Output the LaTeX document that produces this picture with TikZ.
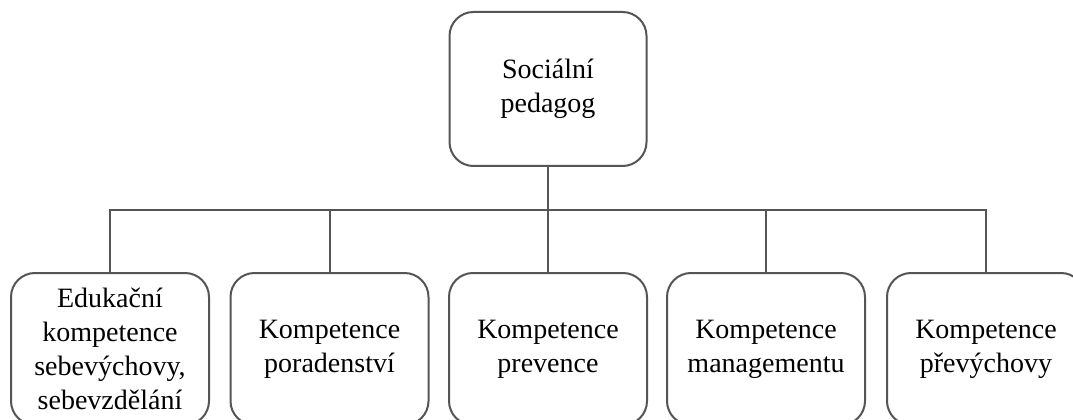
\documentclass[tikz,border=0pt]{standalone}
\usepackage{fontspec}
\setmainfont{Liberation Serif}
\definecolor{linecol}{HTML}{555555}
\begin{document}
\begin{tikzpicture}[x=0.75pt,y=-0.75pt,
  box/.style={draw=linecol, line width=1.5pt, rounded corners=18pt, fill=white,
    align=center, inner sep=0pt, text=black, font=\fontsize{21}{25.5}\selectfont},
  topbox/.style={box, minimum width=147.75pt, minimum height=115.5pt},
  subbox/.style={box, minimum width=148.5pt, minimum height=114pt},
  conn/.style={draw=linecol, line width=1.5pt}]
\useasboundingbox (0,0) rectangle (1073,420);
\fill[white] (0,0) rectangle (1073,420);
\coordinate (bus) at (549,210);
\node[topbox] (top) at (548,89) {Sociální\\pedagog};
\node[subbox] (b1) at (110,349) {Edukační\\kompetence\\sebevýchovy,\\sebevzdělání};
\node[subbox] (b2) at (329.5,349) {Kompetence\\poradenství};
\node[subbox] (b3) at (548,349) {Kompetence\\prevence};
\node[subbox] (b4) at (766,349) {Kompetence\\managementu};
\node[subbox] (b5) at (986,349) {Kompetence\\převýchovy};
\foreach \b in {b1,b2,b3,b4,b5}
  \draw[conn] (top.south) -- (top.south |- bus) -| (\b.north);
\end{tikzpicture}
\end{document}
